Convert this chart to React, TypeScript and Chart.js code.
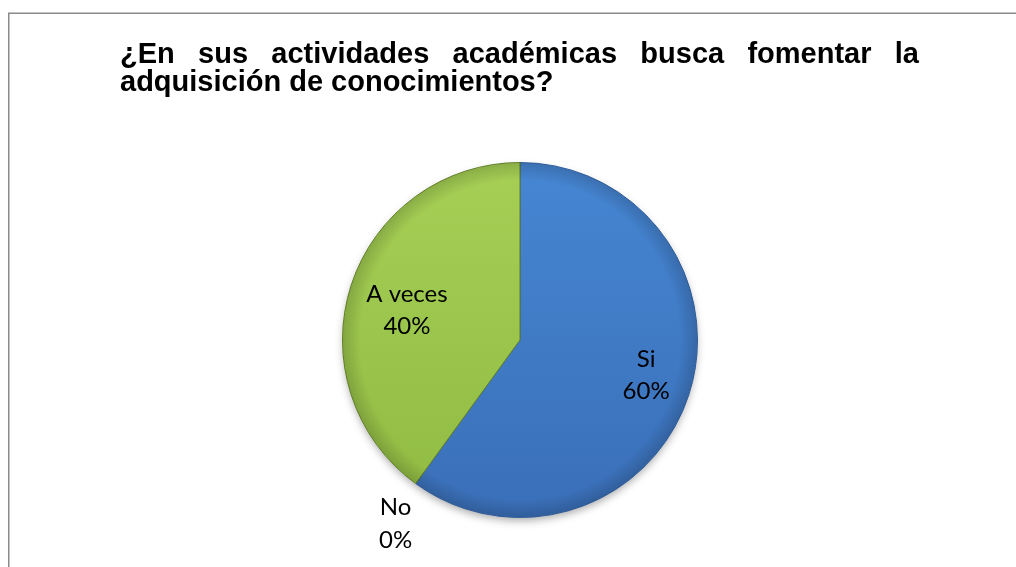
import React, { useEffect, useRef } from "react";
import { Chart, registerables } from "chart.js";

Chart.register(...registerables);

const titleLines: string[] = [
  "¿En sus actividades académicas busca fomentar la",
  "adquisición de conocimientos?",
];
const categories: string[] = ["Si", "No", "A veces"];
const percentValues: number[] = [60, 0, 40];

const topColors = ["#4686d3", "#4686d3", "#a5cf55"];
const bottomColors = ["#3a6fb8", "#3a6fb8", "#90bb42"];
const edgeColors = ["#2f5c98", "#2f5c98", "#5f7d24"];
// label placement (angle shift in degrees, distance as fraction of radius)
const labelAngleShift = [-2.3, -1.9, -3.1];
const labelRadiusFactor = [0.738, 1.25, 0.659];

const PIE_RADIUS = 177.5;

export default function App() {
  const canvasRef = useRef<HTMLCanvasElement | null>(null);

  useEffect(() => {
    const canvas = canvasRef.current;
    if (!canvas) return;

    const framePlugin = {
      id: "frameTitle",
      beforeDraw(chart: any) {
        const ctx: CanvasRenderingContext2D = chart.ctx;
        ctx.save();
        ctx.fillStyle = "#ffffff";
        ctx.fillRect(0, 0, chart.width, chart.height);
        // border of the chart box
        ctx.strokeStyle = "#8a8a8a";
        ctx.lineWidth = 1.5;
        ctx.beginPath();
        ctx.moveTo(8.75, chart.height + 5);
        ctx.lineTo(8.75, 13.25);
        ctx.lineTo(chart.width + 5, 13.25);
        ctx.stroke();

        // justified title
        ctx.fillStyle = "#000000";
        ctx.font = "bold 29px 'Liberation Sans', Arial, sans-serif";
        ctx.textBaseline = "alphabetic";
        ctx.textAlign = "left";
        const x0 = 120;
        const x1 = 919;
        const baselines = [62.5, 90.5];
        titleLines.forEach((line, li) => {
          const y = baselines[li];
          if (li < titleLines.length - 1) {
            const words = line.split(" ");
            const widths = words.map((w) => ctx.measureText(w).width);
            const sum = widths.reduce((a, b) => a + b, 0);
            const gap = (x1 - x0 - sum) / (words.length - 1);
            let x = x0;
            words.forEach((w, i) => {
              ctx.fillText(w, x, y);
              x += widths[i] + gap;
            });
          } else {
            ctx.fillText(line, x0, y);
          }
        });
        ctx.restore();
      },
      beforeDatasetsDraw(chart: any) {
        const meta = chart.getDatasetMeta(0);
        const el = meta.data[0];
        if (!el) return;
        const ctx: CanvasRenderingContext2D = chart.ctx;
        ctx.save();
        ctx.shadowColor = "rgba(0,0,0,0.35)";
        ctx.shadowBlur = 9;
        ctx.shadowOffsetY = 4;
        ctx.fillStyle = "#ffffff";
        ctx.beginPath();
        ctx.arc(el.x, el.y, el.outerRadius - 1, 0, Math.PI * 2);
        ctx.fill();
        ctx.restore();
      },
      afterDatasetsDraw(chart: any) {
        const meta = chart.getDatasetMeta(0);
        const ctx: CanvasRenderingContext2D = chart.ctx;
        const data: number[] = chart.data.datasets[0].data;
        const total = data.reduce((a, b) => a + b, 0);

        // soft bevel rim
        const el0 = meta.data[0];
        if (el0) {
          const R = el0.outerRadius;
          ctx.save();
          ctx.beginPath();
          ctx.arc(el0.x, el0.y, R - 0.5, 0, Math.PI * 2);
          ctx.clip();
          const g = ctx.createRadialGradient(el0.x, el0.y, R * 0.9, el0.x, el0.y, R);
          g.addColorStop(0, "rgba(0,0,0,0)");
          g.addColorStop(1, "rgba(0,0,0,0.16)");
          ctx.fillStyle = g;
          ctx.fillRect(el0.x - R, el0.y - R, 2 * R, 2 * R);
          ctx.restore();
        }

        ctx.save();
        ctx.fillStyle = "#000000";
        ctx.font = "24px Lato, 'Open Sans', sans-serif";
        ctx.textAlign = "center";
        ctx.textBaseline = "alphabetic";
        meta.data.forEach((el: any, i: number) => {
          const mid = (el.startAngle + el.endAngle) / 2 + (labelAngleShift[i] * Math.PI) / 180;
          const r = el.outerRadius * labelRadiusFactor[i];
          const cx = el.x + Math.cos(mid) * r;
          const cy = el.y + Math.sin(mid) * r;
          const pct = Math.round((data[i] / total) * 100);
          ctx.fillText(String(chart.data.labels[i]), cx, cy - 8.4);
          ctx.fillText(pct + "%", cx, cy + 24);
        });
        ctx.restore();
      },
    };

    const fill = (c: any) => {
      const i = c.dataIndex ?? 0;
      const chart = c.chart;
      const area = chart.chartArea;
      if (!area) return topColors[i];
      const cy = (area.top + area.bottom) / 2;
      const g = chart.ctx.createLinearGradient(0, cy - PIE_RADIUS, 0, cy + PIE_RADIUS);
      g.addColorStop(0, topColors[i]);
      g.addColorStop(1, bottomColors[i]);
      return g;
    };

    const chart = new Chart(canvas, {
      type: "pie",
      data: {
        labels: categories,
        datasets: [
          {
            data: percentValues,
            backgroundColor: fill as any,
            borderColor: edgeColors,
            borderWidth: 1,
            hoverOffset: 0,
          },
        ],
      },
      options: {
        animation: false,
        responsive: false,
        events: [],
        radius: PIE_RADIUS,
        layout: { padding: { left: 340, right: 316, top: 160, bottom: 47 } },
        plugins: {
          legend: { display: false },
          tooltip: { enabled: false },
          title: { display: false },
        },
      } as any,
      plugins: [framePlugin],
    });

    return () => {
      chart.destroy();
    };
  }, []);

  return (
    <div style={{ position: "fixed", left: 0, top: 0, width: 1016, height: 567, background: "#fff" }}>
      <canvas ref={canvasRef} width={1016} height={567} style={{ width: 1016, height: 567, display: "block" }} />
    </div>
  );
}
